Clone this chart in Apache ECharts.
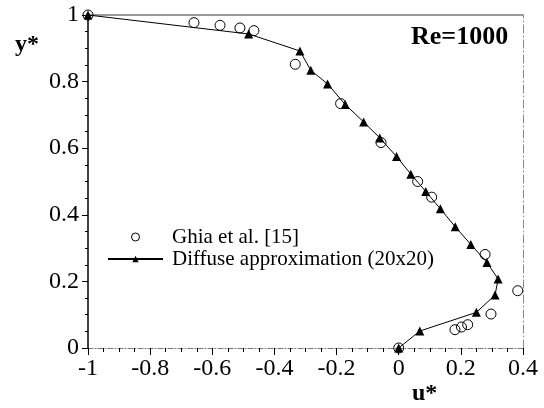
<!DOCTYPE html>
<html>
<head>
<meta charset="utf-8">
<script src="https://cdn.jsdelivr.net/npm/echarts@6/dist/echarts.min.js"></script>
<style>html,body{margin:0;padding:0;background:#fff}#c{width:544px;height:408px}</style>
</head>
<body>
<div id="c"></div>
<script>
// Ghia et al. [15] reference values (u*, y*)
const ghiaU = [-1, -0.659, -0.575, -0.511, -0.466, -0.333, -0.187, -0.057, 0.061, 0.106, 0.278, 0.383, 0.297, 0.222, 0.202, 0.181, 0];
const ghiaY = [1, 0.977, 0.969, 0.961, 0.953, 0.852, 0.734, 0.617, 0.5, 0.453, 0.281, 0.172, 0.102, 0.070, 0.063, 0.055, 0];
// Diffuse approximation (20x20)
const diffU = [-1, -0.483, -0.318, -0.283, -0.229, -0.172, -0.113, -0.061, -0.007, 0.039, 0.087, 0.134, 0.182, 0.232, 0.284, 0.320, 0.310, 0.250, 0.068, 0];
const diffY = [1, 0.943, 0.892, 0.834, 0.793, 0.731, 0.679, 0.631, 0.575, 0.522, 0.470, 0.418, 0.364, 0.311, 0.257, 0.207, 0.159, 0.107, 0.051, 0];
const seriesNames = ['Ghia et al. [15]', 'Diffuse approximation (20x20)'];
const xTicks = {min: -1, max: 0.4, step: 0.2};
const yTicks = {min: 0, max: 1, step: 0.2};
const annotation = 'Re=1000';
const xName = 'u*';
const yName = 'y*';

const FONT = '"Liberation Serif", "Times New Roman", serif';
const fmt = v => String(Math.round(v * 10) / 10);

const chart = echarts.init(document.getElementById('c'), null, {renderer: 'canvas'});
chart.setOption({
  backgroundColor: '#fff',
  animation: false,
  grid: {left: 88, right: 21, top: 15, bottom: 60, containLabel: false},
  xAxis: [{
    type: 'value', min: xTicks.min, max: xTicks.max, interval: xTicks.step,
    axisLine: {show: true, onZero: false, lineStyle: {color: '#777', width: 1, type: [5, 2, 1, 2]}},
    axisTick: {show: true, inside: false, length: 7, lineStyle: {color: '#000', width: 1}},
    minorTick: {show: true, splitNumber: 4, length: 4, lineStyle: {color: '#000', width: 1}},
    axisLabel: {color: '#000', fontFamily: FONT, fontSize: 24, margin: 9, formatter: fmt},
    splitLine: {show: false}
  }, {
    type: 'value', position: 'top', min: xTicks.min, max: xTicks.max,
    axisLine: {show: true, onZero: false, lineStyle: {color: '#999', width: 2}},
    axisTick: {show: false}, axisLabel: {show: false}, splitLine: {show: false}
  }],
  yAxis: [{
    type: 'value', min: yTicks.min, max: yTicks.max, interval: yTicks.step,
    axisLine: {show: true, onZero: false, lineStyle: {color: '#000', width: 1.5}},
    axisTick: {show: true, inside: false, length: 6, lineStyle: {color: '#000', width: 1}},
    minorTick: {show: true, splitNumber: 4, length: 3, lineStyle: {color: '#000', width: 1}},
    axisLabel: {color: '#000', fontFamily: FONT, fontSize: 24, margin: 9, formatter: fmt},
    splitLine: {show: false}
  }, {
    type: 'value', position: 'right', min: yTicks.min, max: yTicks.max,
    axisLine: {show: true, onZero: false, lineStyle: {color: '#888', width: 1, type: [8, 3, 1, 3]}},
    axisTick: {show: false}, axisLabel: {show: false}, splitLine: {show: false}
  }],
  legend: {
    orient: 'vertical', left: 107, top: 226, itemGap: 0, padding: 0,
    itemWidth: 55, itemHeight: 8,
    textStyle: {color: '#000', fontFamily: FONT, fontSize: 21, lineHeight: 22, padding: [0, 0, 0, 4]},
    data: [
      {name: seriesNames[0], icon: 'circle', itemStyle: {color: 'rgba(0,0,0,0)', borderColor: '#000', borderWidth: 1}},
      {name: seriesNames[1]}
    ]
  },
  series: [{
    name: seriesNames[1], type: 'line', z: 2,
    data: diffU.map((u, i) => [u, diffY[i]]),
    symbol: 'triangle', symbolSize: 9, showAllSymbol: true,
    lineStyle: {color: '#000', width: 1},
    itemStyle: {color: '#000'},
    emphasis: {disabled: true}
  }, {
    name: seriesNames[0], type: 'scatter', z: 3,
    data: ghiaU.map((u, i) => [u, ghiaY[i]]),
    symbol: 'circle', symbolSize: 10,
    itemStyle: {color: 'rgba(0,0,0,0)', borderColor: '#000', borderWidth: 1, opacity: 1},
    emphasis: {disabled: true}
  }],
  graphic: [
    {type: 'text', left: 411, top: 24, style: {text: annotation, font: 'bold 26px ' + FONT, fill: '#000'}},
    {type: 'text', left: 412, top: 382, style: {text: xName, font: 'bold 24px ' + FONT, fill: '#000'}},
    {type: 'text', left: 15, top: 33, style: {text: yName, font: 'bold 24px ' + FONT, fill: '#000'}}
  ]
});
</script>
</body>
</html>
